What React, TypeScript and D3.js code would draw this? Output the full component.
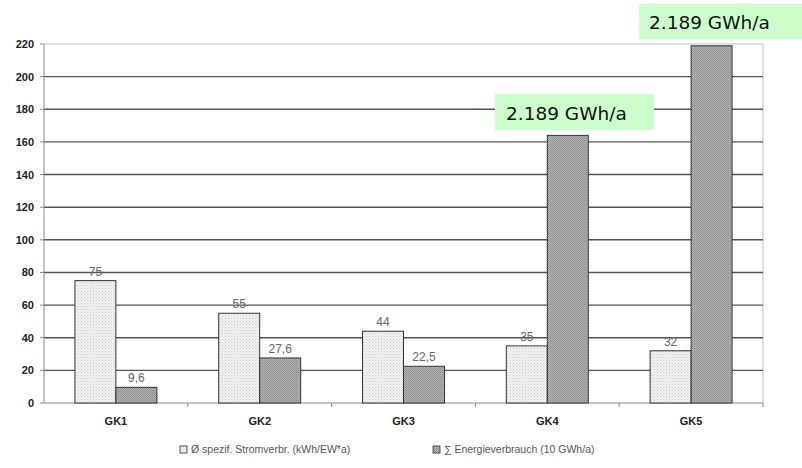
import React from "react";
import * as d3 from "d3";

const categories = ["GK1", "GK2", "GK3", "GK4", "GK5"];
const stromverbr = [75, 55, 44, 35, 32];
const energie = [9.6, 27.6, 22.5, 164, 218.9];
const stromLabels = ["75", "55", "44", "35", "32"];
const energieLabels = ["9,6", "27,6", "22,5", "", ""];
const yTicks = [0, 20, 40, 60, 80, 100, 120, 140, 160, 180, 200, 220];
const legendLabels = ["Ø spezif. Stromverbr. (kWh/EW*a)", "∑ Energieverbrauch (10 GWh/a)"];
const noteText = "2.189 GWh/a";

export default function App() {
  const W = 802, H = 468;
  const left = 44, right = 763, top = 44, bottom = 403;
  const x = d3.scaleBand<string>().domain(categories).range([left, right]);
  const y = d3.scaleLinear().domain([0, 220]).range([bottom, top]);
  const bw = x.bandwidth() * 0.285;
  const font = "Arial, 'Liberation Sans', sans-serif";

  return (
    <svg width={W} height={H} style={{ position: "absolute", left: 0, top: 0, background: "#fff" }}>
      <defs>
        <pattern id="pLight" width="3" height="3" patternUnits="userSpaceOnUse">
          <rect width="3" height="3" fill="#f2f2f2" />
          <rect x="0" y="0" width="1" height="1" fill="#c8c8c8" />
          <rect x="1.5" y="1.5" width="1" height="1" fill="#d8d8d8" />
        </pattern>
        <pattern id="pDark" width="2" height="2" patternUnits="userSpaceOnUse">
          <rect width="2" height="2" fill="#b4b4b4" />
          <rect x="0" y="0" width="1" height="1" fill="#8a8a8a" />
          <rect x="1" y="1" width="1" height="1" fill="#9a9a9a" />
        </pattern>
      </defs>
      {/* plot border */}
      <line x1={left} x2={right} y1={top} y2={top} stroke="#c0c0c0" strokeWidth={1} />
      <line x1={right} x2={right} y1={top} y2={bottom} stroke="#c0c0c0" strokeWidth={1} />
      {/* gridlines */}
      {yTicks.filter(t => t > 0 && t < 220).map(t => (
        <line key={t} x1={left} x2={right} y1={y(t)} y2={y(t)} stroke="#555" strokeWidth={1.4} />
      ))}
      {/* y axis */}
      <line x1={left} x2={left} y1={top} y2={bottom} stroke="#8a8a8a" strokeWidth={1} />
      {yTicks.map(t => (
        <g key={t}>
          <line x1={left - 4} x2={left} y1={y(t)} y2={y(t)} stroke="#8a8a8a" />
          <text x={left - 10} y={y(t) + 4} textAnchor="end" fontFamily={font} fontSize={11} fontWeight="bold" fill="#222">{t}</text>
        </g>
      ))}
      {/* x axis */}
      <line x1={left} x2={right} y1={bottom} y2={bottom} stroke="#8a8a8a" strokeWidth={1.2} />
      {categories.map((c, i) => (
        <line key={"tk" + i} x1={(x(c) as number) + x.bandwidth()} x2={(x(c) as number) + x.bandwidth()} y1={bottom} y2={bottom + 4} stroke="#8a8a8a" />
      ))}
      {/* bars */}
      {categories.map((c, i) => {
        const cx = (x(c) as number) + x.bandwidth() / 2;
        return (
          <g key={c}>
            <rect x={cx - bw} y={y(stromverbr[i])} width={bw} height={bottom - y(stromverbr[i])} fill="url(#pLight)" stroke="#333" strokeWidth={1} />
            <rect x={cx} y={y(energie[i])} width={bw} height={bottom - y(energie[i])} fill="url(#pDark)" stroke="#333" strokeWidth={1} />
            <text x={cx - bw / 2} y={y(stromverbr[i]) - 5} textAnchor="middle" fontFamily={font} fontSize={12} fill="#666">{stromLabels[i]}</text>
            {energieLabels[i] && (
              <text x={cx + bw / 2} y={y(energie[i]) - 5} textAnchor="middle" fontFamily={font} fontSize={12} fill="#666">{energieLabels[i]}</text>
            )}
            <text x={cx} y={425} textAnchor="middle" fontFamily={font} fontSize={11} fontWeight="bold" fill="#222">{c}</text>
          </g>
        );
      })}
      {/* legend */}
      <g fontFamily={font} fontSize={10.5} fill="#555">
        <rect x={180} y={446} width={7} height={7} fill="url(#pLight)" stroke="#333" strokeWidth={0.8} />
        <text x={191} y={453}>{legendLabels[0]}</text>
        <rect x={433} y={446} width={7} height={7} fill="url(#pDark)" stroke="#333" strokeWidth={0.8} />
        <text x={444} y={453}>{legendLabels[1]}</text>
      </g>
      {/* annotations */}
      <rect x={495} y={94} width={159} height={36} fill="#ccffcc" />
      <text x={506} y={120} fontFamily="'DejaVu Sans', Verdana, sans-serif" fontSize={18.5} fill="#111">{noteText}</text>
      <rect x={639} y={4} width={163} height={35} fill="#ccffcc" />
      <text x={649} y={29} fontFamily="'DejaVu Sans', Verdana, sans-serif" fontSize={18.5} fill="#111">{noteText}</text>
    </svg>
  );
}
